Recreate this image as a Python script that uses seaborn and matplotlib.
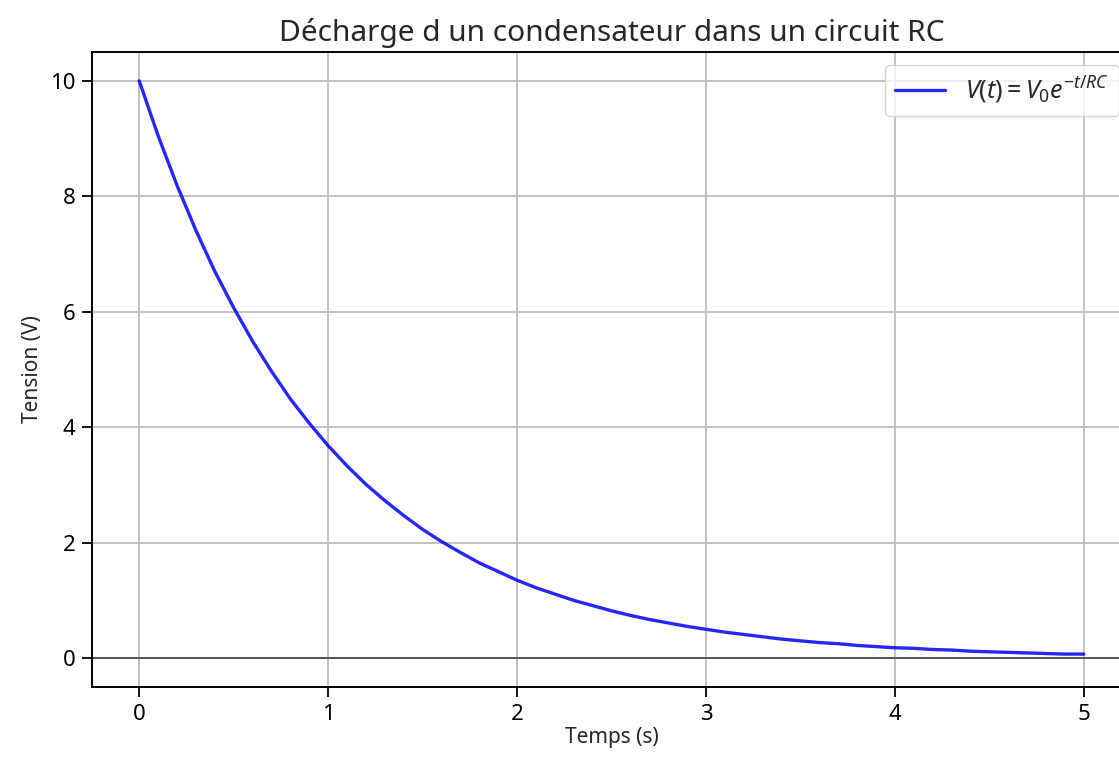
import matplotlib
matplotlib.use("Agg")
import matplotlib.pyplot as plt
import seaborn as sns
import pandas as pd

# Values
temps = [0.0, 0.1, 0.2, 0.3, 0.4, 0.5, 0.6, 0.7, 0.8, 0.9,
         1.0, 1.1, 1.2, 1.3, 1.4, 1.5, 1.6, 1.7, 1.8, 1.9,
         2.0, 2.1, 2.2, 2.3, 2.4, 2.5, 2.6, 2.7, 2.8, 2.9,
         3.0, 3.1, 3.2, 3.3, 3.4, 3.5, 3.6, 3.7, 3.8, 3.9,
         4.0, 4.1, 4.2, 4.3, 4.4, 4.5, 4.6, 4.7, 4.8, 4.9, 5.0]
tension = [10.00, 9.05, 8.19, 7.41, 6.70, 6.07, 5.49, 4.97, 4.49, 4.07,
           3.68, 3.33, 3.01, 2.73, 2.47, 2.23, 2.02, 1.83, 1.65, 1.50,
           1.35, 1.22, 1.11, 1.00, 0.91, 0.82, 0.74, 0.67, 0.61, 0.55,
           0.50, 0.45, 0.41, 0.37, 0.33, 0.30, 0.27, 0.25, 0.22, 0.20,
           0.18, 0.17, 0.15, 0.14, 0.12, 0.11, 0.10, 0.09, 0.08, 0.07, 0.07]
serie_label = r"$V(t) = V_0 e^{-t/RC}$"
titre = "Décharge d un condensateur dans un circuit RC"
xlabel = "Temps (s)"
ylabel = "Tension (V)"

sns.set_style("ticks")
plt.rcParams["font.family"] = ["Noto Sans", "DejaVu Sans"]
plt.rcParams["mathtext.fontset"] = "custom"
plt.rcParams["mathtext.rm"] = "Noto Sans"
plt.rcParams["mathtext.it"] = "Noto Sans:italic"

df = pd.DataFrame({"t": temps, "V": tension})

fig = plt.figure(figsize=(11.19, 7.58), dpi=100)
ax = fig.add_axes([92/1119, 1-687/758, (1131-92)/1119, (687-52)/758])

sns.lineplot(data=df, x="t", y="V", ax=ax, color="blue", linewidth=2.4,
             alpha=0.85, label=serie_label)
ax.axhline(0, color="#555555", linewidth=1.4, zorder=1)
ax.grid(True, color="#bdbdbd", linewidth=1.3)
ax.set_axisbelow(True)

ax.set_xlim(-0.25, 5.25)
ax.set_ylim(-0.5, 10.5)
ax.set_xticks([0, 1, 2, 3, 4, 5])
ax.set_yticks([0, 2, 4, 6, 8, 10])
ax.tick_params(labelsize=16, length=7, width=1.3, colors="black", pad=5)
for s in ax.spines.values():
    s.set_color("black")
    s.set_linewidth(1.4)

ax.set_title(titre, fontsize=21.5, pad=8)
ax.set_xlabel(xlabel, fontsize=15, labelpad=2)
ax.set_ylabel(ylabel, fontsize=15, labelpad=5)
ax.legend(loc="upper right", fontsize=18, frameon=True, fancybox=True,
          handlelength=2.0)

fig.savefig("out.png", dpi=100)
